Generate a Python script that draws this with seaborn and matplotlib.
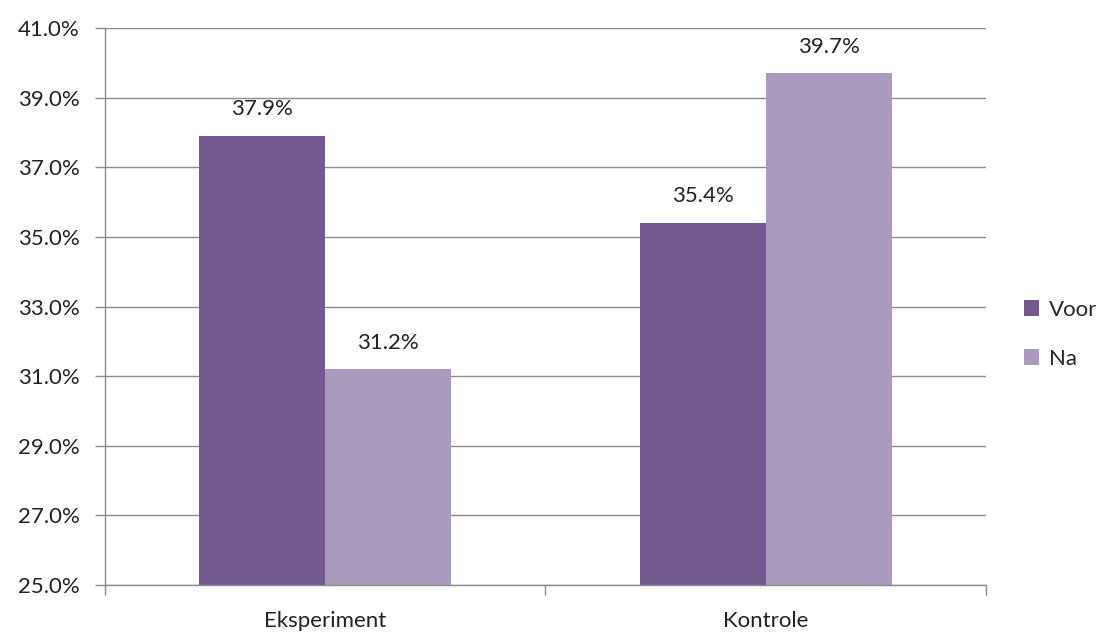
import numpy as np
import pandas as pd
import matplotlib
matplotlib.use('Agg')
import matplotlib.pyplot as plt
import seaborn as sns

# data
groups = ['Eksperiment', 'Kontrole']
series = ['Voor', 'Na']
voor = [37.9, 35.4]
na = [31.2, 39.7]
yticks = [25, 27, 29, 31, 33, 35, 37, 39, 41]

purple = '#72598f'
lilac = '#a99bbe'
grey = '#8c8c8c'
fs = 16

df = pd.DataFrame({
    'groep': groups * 2,
    'tydstip': [series[0]] * 2 + [series[1]] * 2,
    'waarde': voor + na,
})

sns.set_style('white')
plt.rcParams['font.family'] = ['Lato', 'DejaVu Sans']

fig = plt.figure(figsize=(11.03, 6.37), dpi=100)
ax = fig.add_axes([0.0952, 0.0816, 0.7987, 0.8744])

sns.barplot(data=df, x='groep', y='waarde', hue='tydstip', order=groups,
            hue_order=series, palette=[purple, lilac], width=0.573,
            saturation=1, linewidth=0, ax=ax, legend=True)

ax.set_ylim(25, 41)
ax.set_xlim(-0.5, 1.5)
ax.set_yticks(yticks)
ax.set_yticklabels(['%.1f%%' % v for v in yticks], fontsize=fs, color='#222222')
ax.grid(axis='y', color=grey, linewidth=1)
ax.set_axisbelow(True)
ax.set_xlabel('')
ax.set_ylabel('')

for side in ['top', 'right']:
    ax.spines[side].set_visible(False)
for side in ['left', 'bottom']:
    ax.spines[side].set_color(grey)
    ax.spines[side].set_linewidth(1)

ax.tick_params(axis='y', left=True, length=7, width=1, color=grey, pad=11)
ax.tick_params(axis='x', bottom=False, labelsize=fs, labelcolor='#222222', pad=15)
ax.set_xticks([-0.5, 0.5, 1.5], minor=True)
ax.tick_params(axis='x', which='minor', bottom=True, length=7, width=1, color=grey)

for cont in ax.containers:
    labels = ['%.1f%%' % b.get_height() for b in cont]
    ax.bar_label(cont, labels=labels, padding=12, fontsize=fs, color='#222222')

handles, labels = ax.get_legend_handles_labels()
ax.legend(handles, labels, loc='center left', bbox_to_anchor=(1.02, 0.45),
          frameon=False, fontsize=fs, handlelength=0.7, handleheight=0.7,
          handletextpad=0.45, labelspacing=1.3)

fig.savefig('out.png', dpi=100)
